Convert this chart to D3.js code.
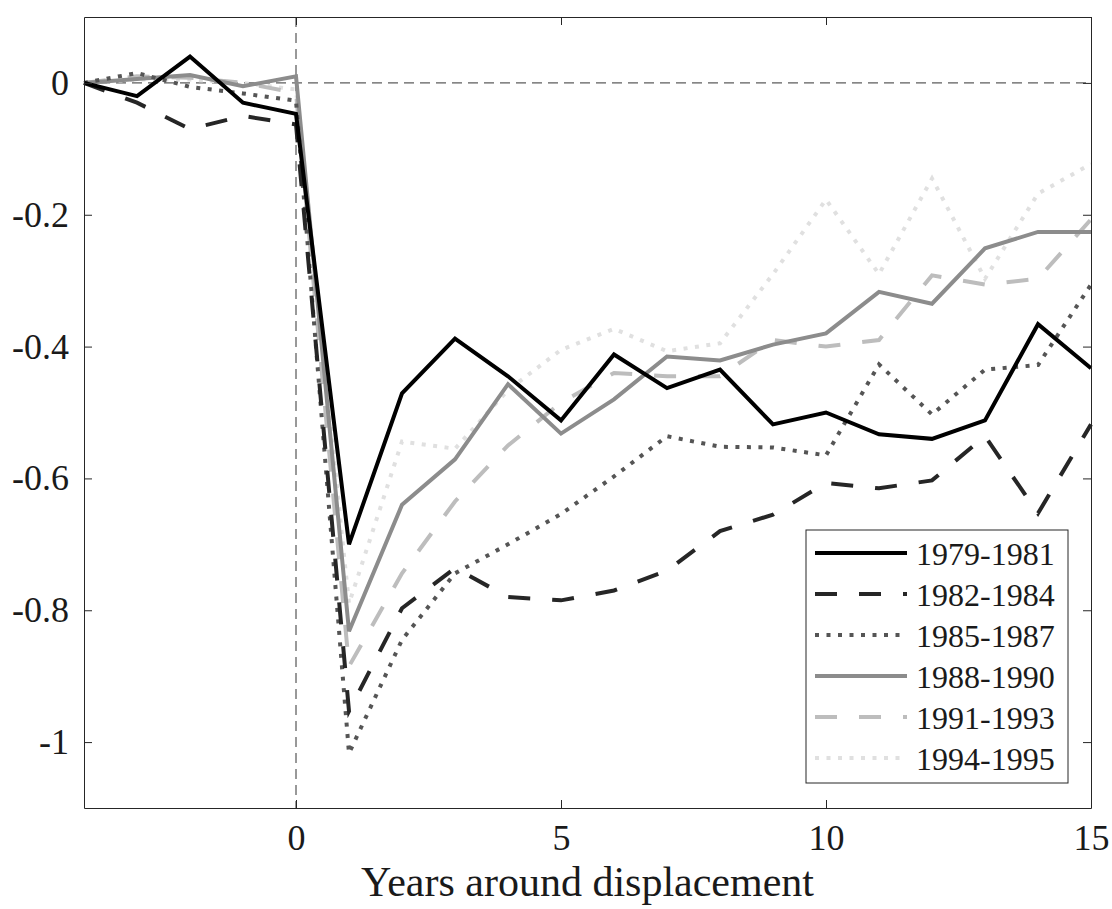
<!DOCTYPE html>
<html>
<head>
    <style>
        body { margin: 0; background: #fff; }
    </style>
    <script src="https://cdn.jsdelivr.net/npm/d3@7"></script>
</head>
<body>
    <script>
        const years = [-4, -3, -2, -1, 0, 1, 2, 3, 4, 5, 6, 7, 8, 9, 10, 11, 12, 13, 14, 15];

        const cohorts = ["1979-1981", "1982-1984", "1985-1987", "1988-1990", "1991-1993", "1994-1995"];

        const v1979 = [0, -0.02, 0.04, -0.03, -0.047, -0.70, -0.471, -0.388, -0.445, -0.512, -0.412, -0.463, -0.435, -0.518, -0.50, -0.533, -0.54, -0.512, -0.366, -0.433];
        const v1982 = [0, -0.03, -0.07, -0.05, -0.063, -0.953, -0.797, -0.736, -0.78, -0.785, -0.77, -0.74, -0.68, -0.655, -0.607, -0.615, -0.603, -0.536, -0.653, -0.518];
        const v1985 = [0, 0.015, -0.006, -0.016, -0.027, -1.017, -0.845, -0.744, -0.70, -0.654, -0.597, -0.536, -0.552, -0.553, -0.565, -0.427, -0.503, -0.435, -0.428, -0.306];
        const v1988 = [0, 0.006, 0.012, -0.005, 0.01, -0.832, -0.64, -0.571, -0.457, -0.532, -0.48, -0.415, -0.421, -0.397, -0.38, -0.317, -0.335, -0.251, -0.226, -0.226];
        const v1991 = [0, 0.01, 0.008, 0.0, -0.015, -0.885, -0.744, -0.635, -0.55, -0.485, -0.44, -0.445, -0.445, -0.39, -0.40, -0.39, -0.292, -0.306, -0.297, -0.207];
        const v1994 = [0, 0.005, 0.005, 0.0, -0.01, -0.79, -0.544, -0.555, -0.466, -0.405, -0.373, -0.407, -0.395, -0.29, -0.177, -0.29, -0.145, -0.297, -0.168, -0.123];

        const seriesValues = [v1979, v1982, v1985, v1988, v1991, v1994];
        const xTicks = [0, 5, 10, 15];
        const yTicks = [0, -0.2, -0.4, -0.6, -0.8, -1];
        const yTickLabels = ["0", "-0.2", "-0.4", "-0.6", "-0.8", "-1"];

        const styles = [
            { color: "#000000", dash: null },
            { color: "#262626", dash: "22,22" },
            { color: "#555555", dash: "4,7.5" },
            { color: "#8c8c8c", dash: null },
            { color: "#bdbdbd", dash: "22,22" },
            { color: "#e0e0e0", dash: "4,7.5" }
        ];

        const serif = "'Liberation Serif', 'Times New Roman', serif";
        const w = 1112;
        const h = 909;
        const margin = { left: 84, right: 21, top: 17, bottom: 101 };

        const xScale = d3.scaleLinear()
            .domain([-4, 15])
            .range([margin.left, w - margin.right]);

        const yScale = d3.scaleLinear()
            .domain([-1.1, 0.1])
            .range([h - margin.bottom, margin.top]);

        const svg = d3.select("body")
            .append("svg")
            .attr("width", w)
            .attr("height", h);

        // reference lines at zero
        svg.append("line")
            .attr("x1", xScale(-4)).attr("x2", xScale(15))
            .attr("y1", yScale(0)).attr("y2", yScale(0))
            .attr("stroke", "#333").attr("stroke-width", 1)
            .attr("stroke-dasharray", "10,6");

        svg.append("line")
            .attr("x1", xScale(0)).attr("x2", xScale(0))
            .attr("y1", yScale(0.1)).attr("y2", yScale(-1.1))
            .attr("stroke", "#333").attr("stroke-width", 1)
            .attr("stroke-dasharray", "10,6");

        const line = d3.line()
            .x((d, i) => xScale(years[i]))
            .y((d) => yScale(d));

        // light series first so the dark ones sit on top
        const order = [5, 4, 3, 2, 1, 0];
        order.forEach((k) => {
            svg.append("path")
                .datum(seriesValues[k])
                .attr("d", line)
                .attr("fill", "none")
                .attr("stroke", styles[k].color)
                .attr("stroke-width", 4)
                .attr("stroke-dasharray", styles[k].dash);
        });

        // axes, MATLAB style: inward ticks on all four sides
        const xAxis = d3.axisBottom(xScale).tickValues(xTicks).tickSizeInner(-8).tickSizeOuter(0).tickPadding(16);
        const yAxis = d3.axisLeft(yScale).tickValues(yTicks).tickSizeInner(-8).tickSizeOuter(0).tickPadding(15)
            .tickFormat((d, i) => yTickLabels[i]);

        svg.append("g")
            .attr("transform", "translate(0," + (h - margin.bottom) + ")")
            .call(xAxis);
        svg.append("g")
            .attr("transform", "translate(" + margin.left + ",0)")
            .call(yAxis);

        svg.append("g")
            .attr("transform", "translate(0," + margin.top + ")")
            .call(d3.axisTop(xScale).tickValues(xTicks).tickSizeInner(-8).tickSizeOuter(0).tickFormat(""));
        svg.append("g")
            .attr("transform", "translate(" + (w - margin.right) + ",0)")
            .call(d3.axisRight(yScale).tickValues(yTicks).tickSizeInner(-8).tickSizeOuter(0).tickFormat(""));

        svg.selectAll(".domain").attr("stroke", "#262626");
        svg.selectAll(".tick line").attr("stroke", "#262626");
        svg.selectAll(".tick text")
            .attr("font-family", serif)
            .attr("font-size", 36)
            .attr("fill", "#1a1a1a");

        svg.append("text")
            .attr("x", (xScale(-4) + xScale(15)) / 2)
            .attr("y", 896)
            .attr("text-anchor", "middle")
            .attr("font-family", serif)
            .attr("font-size", 42)
            .attr("fill", "#1a1a1a")
            .text("Years around displacement");

        // legend
        const lg = svg.append("g").attr("transform", "translate(806,530)");
        lg.append("rect")
            .attr("width", 262).attr("height", 253)
            .attr("fill", "#fff").attr("stroke", "#262626").attr("stroke-width", 1);

        cohorts.forEach((name, k) => {
            const yy = 23 + k * 41;
            lg.append("line")
                .attr("x1", 9).attr("x2", 101)
                .attr("y1", yy).attr("y2", yy)
                .attr("stroke", styles[k].color)
                .attr("stroke-width", 4)
                .attr("stroke-dasharray", styles[k].dash);
            lg.append("text")
                .attr("x", 110).attr("y", yy + 12)
                .attr("font-family", serif)
                .attr("font-size", 32)
                .attr("fill", "#1a1a1a")
                .text(name);
        });
    </script>
</body>
</html>
